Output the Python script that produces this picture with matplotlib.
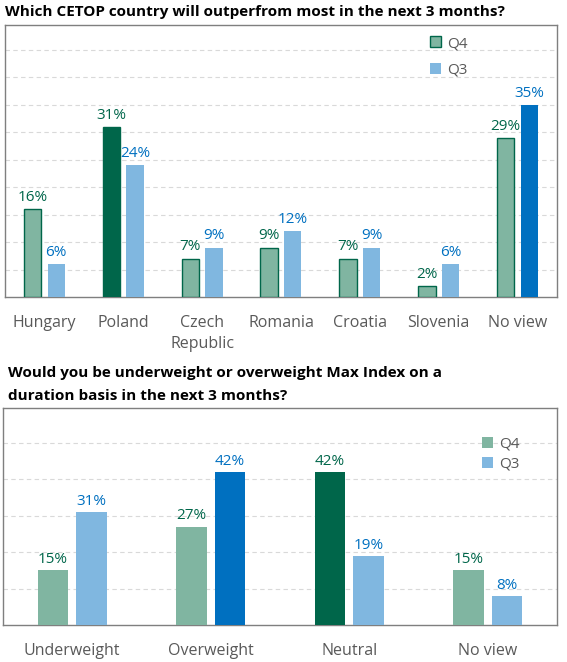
import matplotlib.pyplot as plt
import numpy as np

plt.rcParams['font.family'] = ['Open Sans', 'DejaVu Sans']

# top chart data
countries = ["Hungary", "Poland", "Czech\nRepublic", "Romania", "Croatia", "Slovenia", "No view"]
top_q4 = [16, 31, 7, 9, 7, 2, 29]
top_q3 = [6, 24, 9, 12, 9, 6, 35]

# bottom chart data
positions = ["Underweight", "Overweight", "Neutral", "No view"]
bot_q4 = [15, 27, 42, 15]
bot_q3 = [31, 42, 19, 8]

GREEN_L = "#80b5a1"
GREEN_D = "#00664a"
BLUE_L = "#80b7e0"
BLUE_D = "#0070c0"
GRAY = "#595959"

fig = plt.figure(figsize=(5.67, 6.62), dpi=100)


def draw(ax, cats, q4, q3, width, off, ymax, step, hi4, hi3, edges, label_fs):
    x = np.arange(len(cats))
    c4 = [GREEN_D if i == hi4 else GREEN_L for i in range(len(cats))]
    c3 = [BLUE_D if i == hi3 else BLUE_L for i in range(len(cats))]
    ec = GREEN_D if edges else "none"
    b4 = ax.bar(x - off, q4, width, color=c4, edgecolor=ec, linewidth=1.0 if edges else 0, label="Q4", zorder=3)
    b3 = ax.bar(x + off, q3, width, color=c3, label="Q3", zorder=3)
    for xi, v in zip(x, q4):
        ax.text(xi - off, v + ymax * 0.015, f"{v}%", ha="center", va="bottom",
                color=GREEN_D, fontsize=label_fs)
    for xi, v in zip(x, q3):
        ax.text(xi + off, v + ymax * 0.015, f"{v}%", ha="center", va="bottom",
                color=BLUE_D, fontsize=label_fs)
    ax.set_xlim(-0.5, len(cats) - 0.5)
    ax.set_ylim(0, ymax)
    ax.set_yticks(np.arange(step, ymax, step))
    ax.yaxis.grid(True, linestyle=(0, (4, 3)), color="#d9d9d9", linewidth=0.8, zorder=0)
    ax.tick_params(axis="y", left=False, labelleft=False)
    ax.tick_params(axis="x", bottom=False, labelsize=11.5, labelcolor=GRAY, pad=9.5)
    ax.set_xticks(x)
    ax.set_xticklabels(cats, linespacing=1.45)
    for s in ax.spines.values():
        s.set_color("#7f7f7f")
        s.set_linewidth(1.0)
    return b4, b3


ax1 = fig.add_axes([0.0088, 0.5514, 0.9735, 0.4108])
draw(ax1, countries, top_q4, top_q3, 0.22, 0.15, 49.5, 5, 1, 6, True, 11)
leg1 = ax1.legend(loc="upper left", bbox_to_anchor=(0.745, 1.01), frameon=False,
                  fontsize=11, labelcolor=GRAY, handlelength=0.7, handleheight=0.7,
                  handletextpad=0.4, labelspacing=0.75)
leg1.legend_handles[0].set_facecolor(GREEN_L)
leg1.legend_handles[0].set_edgecolor(GREEN_D)
leg1.legend_handles[1].set_facecolor(BLUE_L)

ax2 = fig.add_axes([0.0053, 0.0559, 0.977, 0.3278])
draw(ax2, positions, bot_q4, bot_q3, 0.22, 0.14, 59.6, 10, 2, 1, False, 11)
leg2 = ax2.legend(loc="upper left", bbox_to_anchor=(0.84, 0.93), frameon=False,
                  fontsize=11, labelcolor=GRAY, handlelength=0.7, handleheight=0.7,
                  handletextpad=0.4, labelspacing=0.3)
leg2.legend_handles[0].set_facecolor(GREEN_L)
leg2.legend_handles[1].set_facecolor(BLUE_L)

fig.text(0.008, 0.982, "Which CETOP country will outperfrom most in the next 3 months?",
         fontsize=11, fontweight="bold", va="center", ha="left")
fig.text(0.014, 0.419, "Would you be underweight or overweight Max Index on a\nduration basis in the next 3 months?",
         fontsize=11, fontweight="bold", va="center", ha="left", linespacing=1.75)

fig.savefig("out.png", dpi=100)
